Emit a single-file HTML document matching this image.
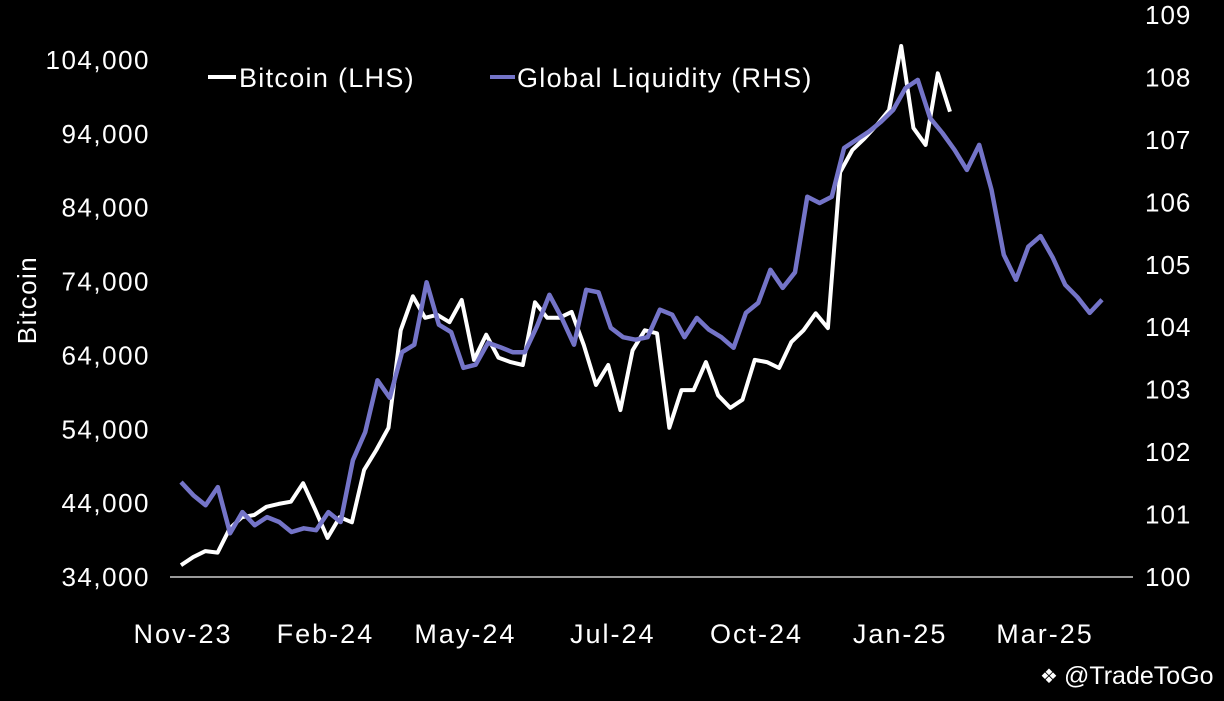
<!DOCTYPE html>
<html><head><meta charset="utf-8"><style>
html,body{margin:0;padding:0;background:#000;}
svg text{font-family:"Liberation Sans",sans-serif;fill:#fff;}
</style></head><body>
<svg width="1224" height="696" viewBox="0 0 1224 696" id="chart">
<rect width="1224" height="696" fill="#000"/>
<line x1="170" y1="577" x2="1133" y2="577" stroke="#9a9a9a" stroke-width="2"/>
<g id="lt"></g>
<g id="rt"></g>
<g id="xt"></g>
<text x="36" y="300" font-size="26" letter-spacing="1.5" text-anchor="middle" transform="rotate(-90 36 300)">Bitcoin</text>
<g>
<g><line x1="208" y1="77" x2="236" y2="77" stroke="#fff" stroke-width="4"/><text x="239" y="87" font-size="27" letter-spacing="1.3">Bitcoin (LHS)</text></g>
<g><line x1="490" y1="77" x2="515" y2="77" stroke="#7474c8" stroke-width="4"/><text x="517" y="87" font-size="27" letter-spacing="1.3">Global Liquidity (RHS)</text></g>
</g>
<g><text x="1040" y="683" font-size="20">❖</text><text x="1064" y="684" font-size="25">@TradeToGo</text></g>
<g id="series"></g>
</svg>
<script>
const xLabels=["Nov-23","Feb-24","May-24","Jul-24","Oct-24","Jan-25","Mar-25"];
const xLabelWeeks=[0,11.6,23,35,46.7,58.4,70.2];
const leftTicks=[34000,44000,54000,64000,74000,84000,94000,104000];
const rightTicks=[100,101,102,103,104,105,106,107,108,109];
const bitcoin=[35600,36700,37500,37300,40600,42100,42400,43500,43900,44200,46700,43100,39300,42100,41400,48500,51200,54200,67400,72000,69100,69500,68500,71500,63400,66800,63700,63100,62700,71200,69100,69100,69900,65400,60000,62700,56600,64700,67400,67000,54200,59300,59300,63100,58600,56900,58000,63400,63100,62300,65800,67400,69700,67700,88800,91800,93400,95200,97200,105900,94800,92500,102200,97000];
const liquidity=[101.52,101.31,101.15,101.44,100.70,101.04,100.83,100.96,100.88,100.72,100.78,100.75,101.04,100.88,101.87,102.32,103.15,102.87,103.60,103.72,104.72,104.04,103.92,103.35,103.40,103.75,103.68,103.60,103.60,104.02,104.52,104.15,103.72,104.60,104.56,103.99,103.84,103.80,103.84,104.28,104.20,103.84,104.15,103.96,103.84,103.67,104.23,104.39,104.92,104.63,104.88,106.09,105.99,106.09,106.87,107.00,107.13,107.29,107.48,107.83,107.96,107.35,107.11,106.84,106.52,106.92,106.20,105.16,104.76,105.29,105.46,105.11,104.68,104.48,104.23,104.44];
const NS="http://www.w3.org/2000/svg";
function yL(v){return 577-(v-34000)/70000*517;}
function yR(v){return 577-(v-100)/9*562;}
function xW(i){return 181+i*(1102-181)/(liquidity.length-1);}
function xB(i){return 181+i*(950-181)/(bitcoin.length-1);}
function mk(tag,attrs,parent,text){const e=document.createElementNS(NS,tag);for(const k in attrs)e.setAttribute(k,attrs[k]);if(text!==undefined)e.textContent=text;parent.appendChild(e);return e;}
const lt=document.getElementById('lt'),rt=document.getElementById('rt'),xt=document.getElementById('xt'),sg=document.getElementById('series');
leftTicks.forEach(v=>{const t=mk('text',{x:150,y:yL(v)+9,'font-size':26,'letter-spacing':1.5,'text-anchor':'end'},lt,v.toLocaleString('en-US'));

});
rightTicks.forEach(v=>{const t=mk('text',{x:1145,y:yR(v)+9,'font-size':26,'letter-spacing':1},rt,String(v));

});
xLabels.forEach((l,i)=>{const t=mk('text',{x:xW(xLabelWeeks[i])+2,y:643,'font-size':27,'letter-spacing':2,'text-anchor':'middle'},xt,l);

});
const pb=mk('polyline',{points:bitcoin.map((v,i)=>xB(i).toFixed(1)+','+yL(v).toFixed(1)).join(' '),fill:'none',stroke:'#ffffff','stroke-width':4,'stroke-linejoin':'round'},sg);


const pl=mk('polyline',{points:liquidity.map((v,i)=>xW(i).toFixed(1)+','+yR(v).toFixed(1)).join(' '),fill:'none',stroke:'#7474c8','stroke-width':4.5,'stroke-linejoin':'round'},sg);


</script>
</body></html>
